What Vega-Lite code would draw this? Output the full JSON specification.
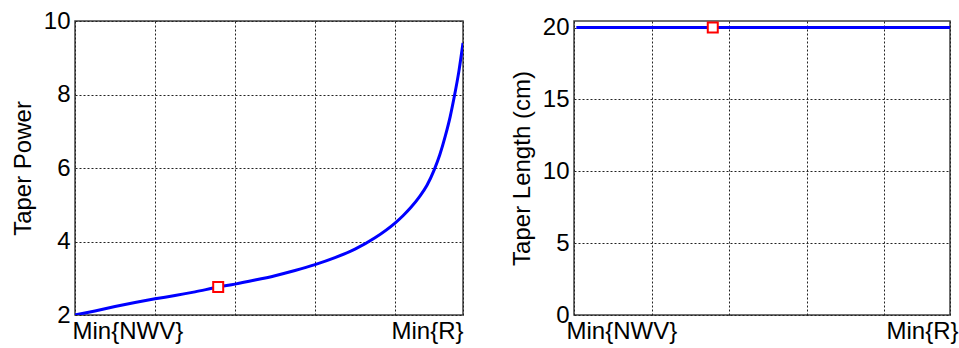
{
  "$schema": "https://vega.github.io/schema/vega-lite/v6.json",
  "padding": {"left": 10, "top": 8, "right": 2, "bottom": 0},
  "spacing": 45,
  "config": {
    "view": {"stroke": "#404040", "strokeWidth": 1.5},
    "font": "Liberation Sans",
    "axis": {
      "labelFont": "Liberation Sans", "labelFontSize": 24, "labelColor": "#000000",
      "titleFont": "Liberation Sans", "titleFontSize": 24, "titleFontWeight": "normal", "titleColor": "#000000",
      "domain": false, "ticks": false, "grid": true, "gridColor": "#222222", "gridDash": [2, 2],
      "gridOpacity": 1, "gridWidth": 1, "labelPadding": 5
    }
  },
  "datasets": {
    "power": [
      {"u": 0, "v": 2.0}, {"u": 0.25, "v": 2.11}, {"u": 0.5, "v": 2.23}, {"u": 0.75, "v": 2.34},
      {"u": 1.0, "v": 2.44}, {"u": 1.25, "v": 2.53}, {"u": 1.5, "v": 2.63}, {"u": 1.79, "v": 2.76},
      {"u": 2.0, "v": 2.84}, {"u": 2.25, "v": 2.95}, {"u": 2.5, "v": 3.07}, {"u": 2.75, "v": 3.21},
      {"u": 3.0, "v": 3.37}, {"u": 3.25, "v": 3.56}, {"u": 3.5, "v": 3.79}, {"u": 3.75, "v": 4.1},
      {"u": 4.0, "v": 4.5}, {"u": 4.1, "v": 4.7}, {"u": 4.2, "v": 4.93}, {"u": 4.3, "v": 5.2},
      {"u": 4.4, "v": 5.53}, {"u": 4.49, "v": 5.95}, {"u": 4.56, "v": 6.36}, {"u": 4.63, "v": 6.88},
      {"u": 4.69, "v": 7.4}, {"u": 4.74, "v": 7.93}, {"u": 4.8, "v": 8.65}, {"u": 4.85, "v": 9.4}
    ],
    "length": [{"u": 0.03, "len": 20}, {"u": 4.85, "len": 20}],
    "marker": [{"u": 1.79, "v": 2.76, "len": 20}]
  },
  "hconcat": [
    {
      "width": 388,
      "height": 294,
      "encoding": {
        "x": {
          "field": "u", "type": "quantitative",
          "scale": {"domain": [0, 4.85], "nice": false, "zero": false},
          "axis": {
            "title": null, "values": [0, 1, 2, 3, 4, 4.85],
            "labelExpr": "datum.value == 0 ? 'Min{NWV}' : (datum.value > 4.8 ? 'Min{R}' : '')",
            "labelAlign": {"condition": {"test": "datum.value == 0", "value": "left"}, "value": "right"},
            "labelOffset": {"condition": {"test": "datum.value == 0", "value": -3}, "value": 0},
            "labelOverlap": false, "labelBound": false, "labelFlush": false, "labelPadding": 4
          }
        },
        "y": {
          "field": "v", "type": "quantitative",
          "scale": {"domain": [2, 10], "nice": false, "zero": false},
          "axis": {"title": "Taper Power", "values": [2, 4, 6, 8, 10], "titlePadding": 8}
        }
      },
      "layer": [
        {"data": {"name": "power"}, "mark": {"type": "line", "color": "#0000ff", "strokeWidth": 3, "clip": true, "interpolate": "monotone"}},
        {"data": {"name": "marker"}, "mark": {"type": "point", "shape": "square", "size": 100, "filled": false, "fill": "#ffffff", "fillOpacity": 1, "stroke": "#ff0000", "strokeWidth": 2, "opacity": 1}}
      ]
    },
    {
      "width": 376,
      "height": 294,
      "encoding": {
        "x": {
          "field": "u", "type": "quantitative",
          "scale": {"domain": [0, 4.85], "nice": false, "zero": false},
          "axis": {
            "title": null, "values": [0, 1, 2, 3, 4, 4.85],
            "labelExpr": "datum.value == 0 ? 'Min{NWV}' : (datum.value > 4.8 ? 'Min{R}' : '')",
            "labelAlign": {"condition": {"test": "datum.value == 0", "value": "left"}, "value": "right"},
            "labelOffset": {"condition": {"test": "datum.value == 0", "value": -8}, "value": 8},
            "labelOverlap": false, "labelBound": false, "labelFlush": false, "labelPadding": 4
          }
        },
        "y": {
          "field": "len", "type": "quantitative",
          "scale": {"domain": [0, 20.46], "nice": false, "zero": false},
          "axis": {"title": "Taper Length (cm)", "values": [0, 5, 10, 15, 20], "titlePadding": 8}
        }
      },
      "layer": [
        {"data": {"name": "length"}, "mark": {"type": "line", "color": "#0000ff", "strokeWidth": 3, "clip": true}},
        {"data": {"name": "marker"}, "mark": {"type": "point", "shape": "square", "size": 100, "filled": false, "fill": "#ffffff", "fillOpacity": 1, "stroke": "#ff0000", "strokeWidth": 2, "opacity": 1}}
      ]
    }
  ]
}
